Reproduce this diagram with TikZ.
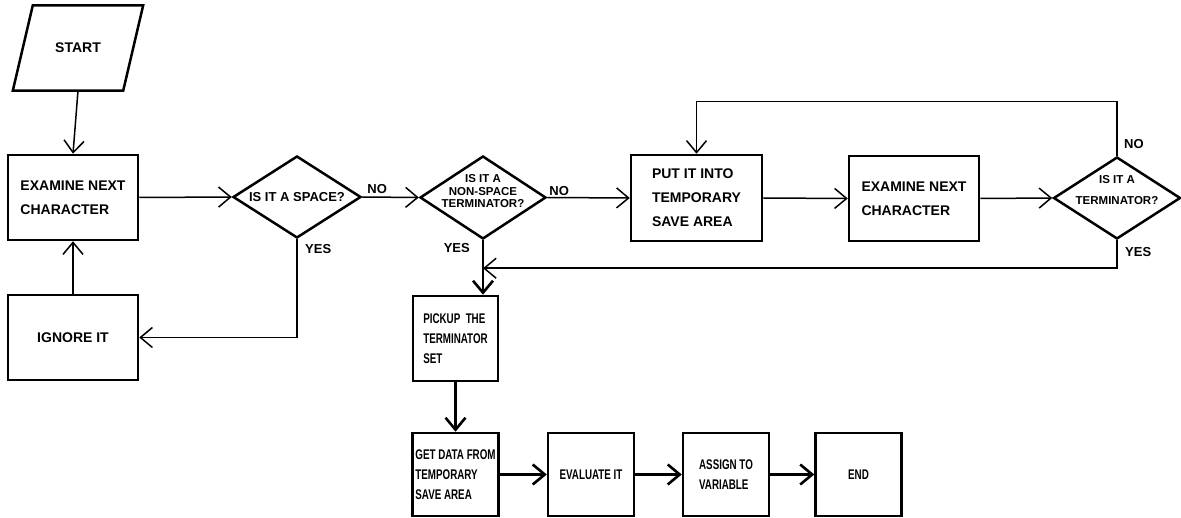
\documentclass[tikz,border=0pt]{standalone}
\usepackage{fontspec}
\setmainfont{Liberation Sans}
\newfontfamily\condfont{Liberation Sans}[FakeStretch=0.7]
\usetikzlibrary{arrows.meta,shapes.geometric}

\tikzset{
	procbox/.style={draw, rectangle, line width=2.5pt, align=left, inner sep=0pt, minimum width=130pt, minimum height=85pt, font=\fontsize{14}{24}\selectfont\bfseries},
	narrowbox/.style={procbox, minimum width=86pt, minimum height=84pt, font=\condfont\fontsize{14}{20}\selectfont\bfseries},
	iobox/.style={rectangle, inner sep=0pt, minimum width=110pt, minimum height=85pt, font=\fontsize{14}{24}\selectfont\bfseries},
	outline/.style={line width=2.5pt, line join=miter},
	decision/.style={draw, diamond, line width=2.5pt, inner sep=0pt, minimum width=128pt, minimum height=82pt},
	dtext/.style={align=center, inner sep=0pt, font=\fontsize{11.5}{12.5}\selectfont\bfseries},
	lbl/.style={inner sep=0pt, font=\fontsize{13}{15}\selectfont\bfseries},
	flow/.style={line width=1.5pt, -{Straight Barb[length=12pt,width=20pt]}},
	thickflow/.style={flow, line width=2.6pt},
}

\begin{document}
\begin{tikzpicture}[x=1pt,y=-1pt]
		\useasboundingbox (0,0) rectangle (1181,518);
		
		%start
		\node[iobox] (start) at (78,48) {START};
		\draw[outline] ([xshift=10pt]start.north west) -- ([xshift=10pt]start.north east)
			-- ([xshift=-10pt]start.south east) -- ([xshift=-10pt]start.south west) -- cycle;
		
		%first row
		\node[procbox] (exam1) at (73,197.5) {EXAMINE NEXT\\CHARACTER};
		\node[procbox] (ignore) at (73,337.5) {IGNORE IT};
		\node[decision, label={[dtext, font=\fontsize{13}{15}\selectfont\bfseries]center:IS IT A SPACE?}] (spc) at (297,197) {};
		\node[decision, minimum width=126pt, minimum height=83pt, label={[dtext, yshift=6pt]center:IS IT A\\NON-SPACE\\TERMINATOR?}] (nst) at (483,197.5) {};
		\node[procbox, minimum width=131pt, minimum height=86pt] (put) at (696.5,198) {PUT IT INTO\\TEMPORARY\\SAVE AREA};
		\node[procbox] (exam2) at (914,198.5) {EXAMINE NEXT\\CHARACTER};
		\node[decision, minimum width=127pt, label={[dtext, yshift=8pt, font=\fontsize{11.5}{21}\selectfont\bfseries]center:IS IT A\\TERMINATOR?}] (term) at (1117,198) {};
		
		%terminator set and last row
		\node[narrowbox, minimum width=85pt, minimum height=85pt] (pick) at (455.5,338.5) {PICKUP\ \ THE\\TERMINATOR\\SET};
		\node[narrowbox, minimum height=83pt] (getd) at (455.5,474.5) {GET DATA FROM\\TEMPORARY\\SAVE AREA};
		\node[narrowbox, minimum height=83pt] (eval) at (591,474.5) {EVALUATE IT};
		\node[narrowbox, minimum height=83pt] (assign) at (726,474.5) {ASSIGN TO\\VARIABLE};
		\node[narrowbox, minimum height=83pt] (endb) at (858.5,474.5) {END};
		
		%yes / no
		\node[lbl, anchor=south west, xshift=5pt, yshift=3pt] (noA) at (spc.east) {NO};
		\node[lbl, anchor=north west, xshift=8pt, yshift=-5pt] (yesA) at (spc.south) {YES};
		\node[lbl, anchor=south west, xshift=2pt, yshift=2pt] (noB) at (nst.east) {NO};
		\node[lbl, anchor=north east, xshift=-13pt, yshift=-3pt] (yesB) at (nst.south) {YES};
		\node[lbl, anchor=south west, xshift=7pt, yshift=7pt] (noC) at (term.north) {NO};
		\node[lbl, anchor=north west, xshift=8pt, yshift=-7pt] (yesC) at (term.south) {YES};
		
		%connectors
		\draw[flow] (start.south) -- (exam1.north);
		\draw[flow] (ignore.north) -- (exam1.south);
		\draw[flow] (exam1.east) -- (spc.west);
		\draw[flow] (spc.south) |- (ignore.east);
		\draw[flow] (spc.east) -- (nst.west);
		\draw[flow] (nst.east) -- (put.west);
		\draw[flow] (put.east) -- (exam2.west);
		\draw[flow] (exam2.east) -- (term.west);
		\draw[flow] (term.north) -- ++(0,-54) -| (put.north);
		\path (nst.south) ++(0,28) coordinate (merge);
		\draw[flow] (term.south) |- (merge);
		\draw[thickflow] (nst.south) -- (nst.south |- pick.north);
		\draw[thickflow] (pick.south) -- (getd.north);
		\draw[thickflow] (getd.east) -- (eval.west);
		\draw[thickflow] (eval.east) -- (assign.west);
		\draw[thickflow] (assign.east) -- (endb.west);
\end{tikzpicture}
\end{document}
